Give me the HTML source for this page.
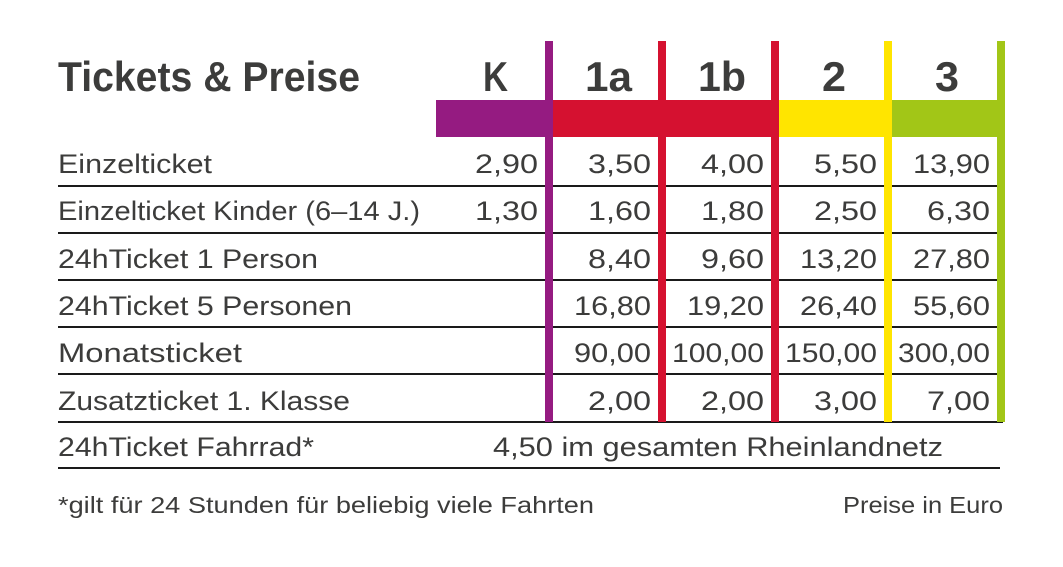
<!DOCTYPE html>
<html><head><meta charset="utf-8"><style>
html,body{margin:0;padding:0;background:#fff;}
svg{display:block;}
text{font-family:"Liberation Sans",sans-serif;fill:#3c3c3b;}
.h{font-weight:bold;font-size:42px;}
.t{font-size:27px;}
.f{font-size:23px;}
</style></head><body>
<svg width="1063" height="567" viewBox="0 0 1063 567" xmlns="http://www.w3.org/2000/svg">
<rect width="1063" height="567" fill="#fff"/>
<rect x="436" y="100" width="113" height="37" fill="#951b81"/>
<rect x="549" y="100" width="226" height="37" fill="#d51130"/>
<rect x="775" y="100" width="113" height="37" fill="#ffe500"/>
<rect x="888" y="100" width="115" height="37" fill="#a2c617"/>
<g stroke="#1a1a1a" stroke-width="2">
<line x1="58" y1="186" x2="1003" y2="186"/>
<line x1="58" y1="233" x2="1003" y2="233"/>
<line x1="58" y1="280" x2="1003" y2="280"/>
<line x1="58" y1="327" x2="1003" y2="327"/>
<line x1="58" y1="374" x2="1003" y2="374"/>
<line x1="58" y1="422" x2="1003" y2="422"/>
<line x1="58" y1="468" x2="1000" y2="468"/>
</g>
<rect x="545" y="41" width="8" height="381" fill="#951b81"/>
<rect x="658" y="41" width="8" height="381" fill="#d51130"/>
<rect x="771" y="41" width="8" height="381" fill="#d51130"/>
<rect x="884" y="41" width="8" height="381" fill="#ffe500"/>
<rect x="997" y="41" width="8" height="381" fill="#a2c617"/>
<text class="h" x="58" y="91" textLength="302" lengthAdjust="spacingAndGlyphs">Tickets &amp; Preise</text>
<text class="h" x="483" y="91" textLength="25" lengthAdjust="spacingAndGlyphs">K</text>
<text class="h" x="585" y="91" textLength="47" lengthAdjust="spacingAndGlyphs">1a</text>
<text class="h" x="698" y="91" textLength="48" lengthAdjust="spacingAndGlyphs">1b</text>
<text class="h" x="822" y="91" textLength="24" lengthAdjust="spacingAndGlyphs">2</text>
<text class="h" x="935" y="91" textLength="24" lengthAdjust="spacingAndGlyphs">3</text>
<text class="t" x="58" y="173" textLength="154" lengthAdjust="spacingAndGlyphs">Einzelticket</text>
<text class="t" x="58" y="220" textLength="362" lengthAdjust="spacingAndGlyphs">Einzelticket Kinder (6–14 J.)</text>
<text class="t" x="58" y="268" textLength="260" lengthAdjust="spacingAndGlyphs">24hTicket 1 Person</text>
<text class="t" x="58" y="315" textLength="294" lengthAdjust="spacingAndGlyphs">24hTicket 5 Personen</text>
<text class="t" x="58" y="362" textLength="184" lengthAdjust="spacingAndGlyphs">Monatsticket</text>
<text class="t" x="58" y="410" textLength="292" lengthAdjust="spacingAndGlyphs">Zusatzticket 1. Klasse</text>
<text class="t" x="58" y="456" textLength="256" lengthAdjust="spacingAndGlyphs">24hTicket Fahrrad*</text>
<g text-anchor="end">
<text class="t" x="538" y="173" textLength="63" lengthAdjust="spacingAndGlyphs">2,90</text>
<text class="t" x="651" y="173" textLength="63" lengthAdjust="spacingAndGlyphs">3,50</text>
<text class="t" x="764" y="173" textLength="63" lengthAdjust="spacingAndGlyphs">4,00</text>
<text class="t" x="877" y="173" textLength="63" lengthAdjust="spacingAndGlyphs">5,50</text>
<text class="t" x="990" y="173" textLength="77" lengthAdjust="spacingAndGlyphs">13,90</text>

<text class="t" x="538" y="220" textLength="63" lengthAdjust="spacingAndGlyphs">1,30</text>
<text class="t" x="651" y="220" textLength="63" lengthAdjust="spacingAndGlyphs">1,60</text>
<text class="t" x="764" y="220" textLength="63" lengthAdjust="spacingAndGlyphs">1,80</text>
<text class="t" x="877" y="220" textLength="63" lengthAdjust="spacingAndGlyphs">2,50</text>
<text class="t" x="990" y="220" textLength="63" lengthAdjust="spacingAndGlyphs">6,30</text>

<text class="t" x="651" y="268" textLength="63" lengthAdjust="spacingAndGlyphs">8,40</text>
<text class="t" x="764" y="268" textLength="63" lengthAdjust="spacingAndGlyphs">9,60</text>
<text class="t" x="877" y="268" textLength="77" lengthAdjust="spacingAndGlyphs">13,20</text>
<text class="t" x="990" y="268" textLength="77" lengthAdjust="spacingAndGlyphs">27,80</text>

<text class="t" x="651" y="315" textLength="77" lengthAdjust="spacingAndGlyphs">16,80</text>
<text class="t" x="764" y="315" textLength="77" lengthAdjust="spacingAndGlyphs">19,20</text>
<text class="t" x="877" y="315" textLength="77" lengthAdjust="spacingAndGlyphs">26,40</text>
<text class="t" x="990" y="315" textLength="77" lengthAdjust="spacingAndGlyphs">55,60</text>

<text class="t" x="651" y="362" textLength="77" lengthAdjust="spacingAndGlyphs">90,00</text>
<text class="t" x="764" y="362" textLength="92" lengthAdjust="spacingAndGlyphs">100,00</text>
<text class="t" x="877" y="362" textLength="92" lengthAdjust="spacingAndGlyphs">150,00</text>
<text class="t" x="990" y="362" textLength="92" lengthAdjust="spacingAndGlyphs">300,00</text>

<text class="t" x="651" y="410" textLength="63" lengthAdjust="spacingAndGlyphs">2,00</text>
<text class="t" x="764" y="410" textLength="63" lengthAdjust="spacingAndGlyphs">2,00</text>
<text class="t" x="877" y="410" textLength="63" lengthAdjust="spacingAndGlyphs">3,00</text>
<text class="t" x="990" y="410" textLength="63" lengthAdjust="spacingAndGlyphs">7,00</text>
</g>
<text class="t" x="493" y="456" textLength="450" lengthAdjust="spacingAndGlyphs">4,50 im gesamten Rheinlandnetz</text>
<text class="f" x="58" y="513" textLength="536" lengthAdjust="spacingAndGlyphs">*gilt für 24 Stunden für beliebig viele Fahrten</text>
<text class="f" x="1003" y="513" text-anchor="end" textLength="160" lengthAdjust="spacingAndGlyphs">Preise in Euro</text>
</svg>
</body></html>
